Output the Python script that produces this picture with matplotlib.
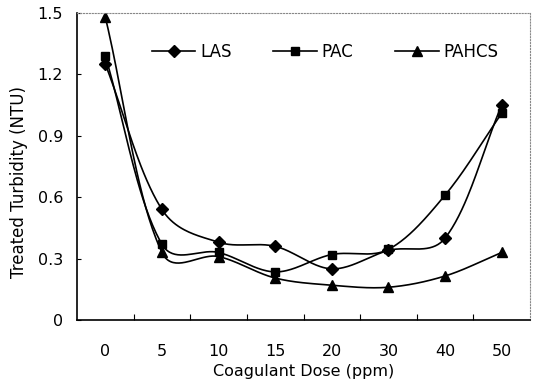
import numpy as np
import matplotlib
matplotlib.use("Agg")
import matplotlib.pyplot as plt

doses = ["0", "5", "10", "15", "20", "30", "40", "50"]
las = [1.25, 0.54, 0.38, 0.36, 0.25, 0.34, 0.40, 1.05]
pac = [1.29, 0.37, 0.33, 0.235, 0.32, 0.345, 0.61, 1.01]
pahcs = [1.48, 0.33, 0.31, 0.205, 0.17, 0.16, 0.215, 0.33]

yticks = [0, 0.3, 0.6, 0.9, 1.2, 1.5]
ytick_labels = ["0", "0.3", "0.6", "0.9", "1.2", "1.5"]

W, H = 537, 383
AX_BOX = [77 / W, 1 - 320 / H, 453 / W, 307 / H]


def smooth(x, y, sx, sy, n=40, alpha=0.6):
    """Smoothed line: cubic Bezier segments whose tangents are weighted by
    neighbouring segment lengths (in screen units, sx/sy = pixels per unit)."""
    P = np.column_stack([np.asarray(x, float) * sx, np.asarray(y, float) * sy])
    m = len(P)
    d = np.linalg.norm(np.diff(P, axis=0), axis=1) ** alpha
    t = np.linspace(0, 1, n)[:, None]
    out = []
    for i in range(m - 1):
        p1, p2 = P[i], P[i + 1]
        if i > 0:
            tan = P[i + 1] - P[i - 1]
            c1 = p1 + tan * d[i] / (d[i - 1] + d[i]) / 3
        else:
            c1 = p1 + (p2 - p1) / 3
        if i + 2 < m:
            tan = P[i + 2] - P[i]
            c2 = p2 - tan * d[i] / (d[i] + d[i + 1]) / 3
        else:
            c2 = p2 - (p2 - p1) / 3
        b = (1 - t) ** 3 * p1 + 3 * (1 - t) ** 2 * t * c1 + 3 * (1 - t) * t ** 2 * c2 + t ** 3 * p2
        out.append(b)
    B = np.vstack(out)
    return B[:, 0] / sx, B[:, 1] / sy


plt.rcParams["font.family"] = ["DejaVu Sans"]
fig = plt.figure(figsize=(W / 100, H / 100), dpi=100)
ax = fig.add_axes(AX_BOX)

xpos = np.arange(len(doses))
ymax = 1.5
px_x = AX_BOX[2] * W / len(doses)
px_y = AX_BOX[3] * H / ymax

series = [("LAS", las, "D", 6), ("PAC", pac, "s", 6), ("PAHCS", pahcs, "^", 7.5)]
for name, vals, mk, ms in series:
    cx, cy = smooth(xpos, vals, px_x, px_y)
    ax.plot(cx, cy, color="black", lw=1.2)
    ax.plot(xpos, vals, linestyle="none", marker=mk, ms=ms, color="black")
    ax.plot([], [], color="black", lw=1.2, marker=mk, ms=ms, label=name)

ax.set_xlim(-0.5, len(doses) - 0.5)
ax.set_ylim(0, ymax)
ax.set_yticks(yticks)
ax.set_yticklabels(ytick_labels)
ax.set_xticks(xpos)
ax.set_xticklabels(doses)
ax.set_xticks(np.arange(0.5, len(doses) - 1, 1.0), minor=True)
ax.tick_params(axis="x", which="major", length=0, pad=17, labelsize=11.5)
ax.tick_params(axis="x", which="minor", direction="in", length=4, width=0.8)
ax.tick_params(axis="y", direction="in", length=3, width=0.8, labelsize=11.5, pad=10)

for side in ("top", "right"):
    ax.spines[side].set_color("#888888")
    ax.spines[side].set_linestyle(":")
    ax.spines[side].set_linewidth(0.8)
for side in ("left", "bottom"):
    ax.spines[side].set_linewidth(1.2)

ax.set_xlabel("Coagulant Dose (ppm)", fontsize=11.5)
ax.xaxis.set_label_coords(0.5, -0.143)
ax.set_ylabel("Treated Turbidity (NTU)", fontsize=12)
ax.yaxis.set_label_coords(-0.108, 0.45)

ax.legend(loc="center", bbox_to_anchor=(0.548, 0.873), ncol=3, frameon=False,
          fontsize=12, handlelength=2.6, handletextpad=0.3, columnspacing=2.5,
          borderpad=0, borderaxespad=0)

fig.savefig("out.png", dpi=100)
